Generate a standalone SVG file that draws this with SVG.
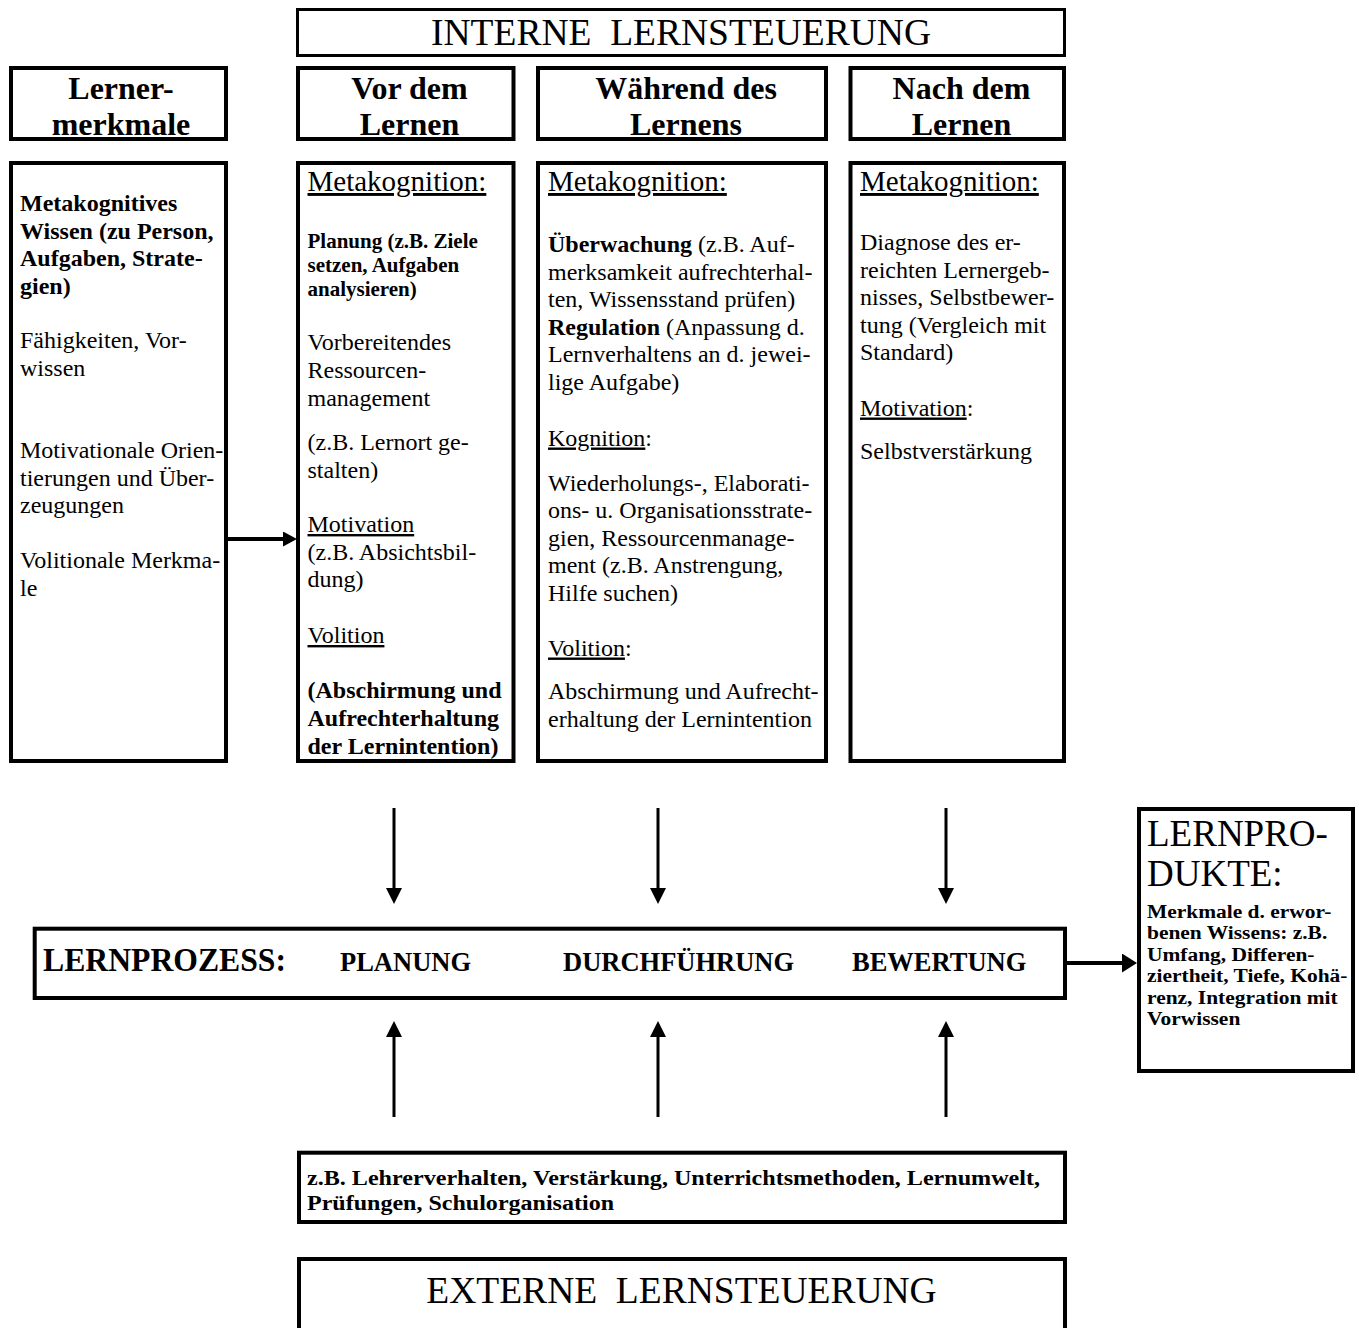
<svg xmlns="http://www.w3.org/2000/svg" width="1359" height="1328" viewBox="0 0 1359 1328">
<style>
text{font-family:"Liberation Serif","Times New Roman",serif;fill:#000}
.bx{fill:#fff;stroke:#000;stroke-width:4}
.bx3{fill:#fff;stroke:#000;stroke-width:3}
.hd{font-size:32px;font-weight:bold;text-anchor:middle}
.big{font-size:37.5px;text-anchor:middle;white-space:pre}
.mk{font-size:29px}
.bd{font-size:24px}
.b{font-weight:bold}
.u{text-decoration:underline}
.sm{font-size:21px;font-weight:bold}
.lp{font-size:26.5px;font-weight:bold}
.cn{stroke:#000;stroke-width:3;fill:none}
.cn4{stroke:#000;stroke-width:4;fill:none}
</style>
<defs>
<marker id="ah" markerUnits="userSpaceOnUse" markerWidth="16" markerHeight="16" refX="0" refY="8" orient="auto" viewBox="0 0 16 16"><path d="M0,0L16,8L0,16z" fill="#000"/></marker>
<marker id="ah2" markerUnits="userSpaceOnUse" markerWidth="15" markerHeight="19" refX="0" refY="9.5" orient="auto" viewBox="0 0 15 19"><path d="M0,0L15,9.5L0,19z" fill="#000"/></marker>
<marker id="ah3" markerUnits="userSpaceOnUse" markerWidth="14" markerHeight="15" refX="0" refY="7.5" orient="auto" viewBox="0 0 14 15"><path d="M0,0L14,7.5L0,15z" fill="#000"/></marker>
</defs>
<rect width="1359" height="1328" fill="#fff"/>

<g id="connectors">
<line class="cn4" x1="228" y1="539" x2="283" y2="539" marker-end="url(#ah3)"/>
<line class="cn" x1="394" y1="808" x2="394" y2="888" marker-end="url(#ah)"/>
<line class="cn" x1="658" y1="808" x2="658" y2="888" marker-end="url(#ah)"/>
<line class="cn" x1="946" y1="808" x2="946" y2="888" marker-end="url(#ah)"/>
<line class="cn" x1="394" y1="1117" x2="394" y2="1037" marker-end="url(#ah)"/>
<line class="cn" x1="658" y1="1117" x2="658" y2="1037" marker-end="url(#ah)"/>
<line class="cn" x1="946" y1="1117" x2="946" y2="1037" marker-end="url(#ah)"/>
<line class="cn4" x1="1067" y1="963" x2="1122" y2="963" marker-end="url(#ah2)"/>
</g>

<g id="interne">
<rect class="bx3" x="297.5" y="9.5" width="767" height="46"/>
<text class="big" x="681" y="45" xml:space="preserve">INTERNE  LERNSTEUERUNG</text>
</g>

<g id="h-lernermerkmale">
<rect class="bx" x="11" y="68" width="215" height="71"/>
<text class="hd" x="121" y="99">Lerner-</text>
<text class="hd u" x="121" y="135">merkmale</text>
</g>
<g id="h-vor">
<rect class="bx" x="298" y="68" width="215.5" height="71"/>
<text class="hd" x="409.5" y="99">Vor dem</text>
<text class="hd u" x="409.5" y="135">Lernen</text>
</g>
<g id="h-waehrend">
<rect class="bx" x="538" y="68" width="288" height="71"/>
<text class="hd" x="686" y="99">Während des</text>
<text class="hd u" x="686" y="135">Lernens</text>
</g>
<g id="h-nach">
<rect class="bx" x="850.5" y="68" width="213.5" height="71"/>
<text class="hd" x="961.5" y="99">Nach dem</text>
<text class="hd u" x="961.5" y="135">Lernen</text>
</g>

<g id="c-lernermerkmale">
<rect class="bx" x="11" y="163" width="215" height="598"/>
<text class="bd b" x="20" y="211">Metakognitives</text>
<text class="bd b" x="20" y="238.6">Wissen (zu Person,</text>
<text class="bd b" x="20" y="266.2">Aufgaben, Strate-</text>
<text class="bd b" x="20" y="293.8">gien)</text>
<text class="bd" x="20" y="348">Fähigkeiten, Vor-</text>
<text class="bd" x="20" y="375.6">wissen</text>
<text class="bd" x="20" y="458">Motivationale Orien-</text>
<text class="bd" x="20" y="485.6">tierungen und Über-</text>
<text class="bd" x="20" y="513.2">zeugungen</text>
<text class="bd" x="20" y="568">Volitionale Merkma-</text>
<text class="bd" x="20" y="595.6">le</text>
</g>

<g id="c-vor">
<rect class="bx" x="298" y="163" width="215.5" height="598"/>
<text class="mk u" x="307.5" y="191">Metakognition:</text>
<text class="sm" x="307.5" y="248">Planung (z.B. Ziele</text>
<text class="sm" x="307.5" y="272">setzen, Aufgaben</text>
<text class="sm" x="307.5" y="296">analysieren)</text>
<text class="bd" x="307.5" y="350">Vorbereitendes</text>
<text class="bd" x="307.5" y="378">Ressourcen-</text>
<text class="bd" x="307.5" y="406">management</text>
<text class="bd" x="307.5" y="450">(z.B. Lernort ge-</text>
<text class="bd" x="307.5" y="477.5">stalten)</text>
<text class="bd u" x="307.5" y="532">Motivation</text>
<text class="bd" x="307.5" y="560">(z.B. Absichtsbil-</text>
<text class="bd" x="307.5" y="587">dung)</text>
<text class="bd u" x="307.5" y="643">Volition</text>
<text class="bd b" x="307.5" y="698">(Abschirmung und</text>
<text class="bd b" x="307.5" y="726">Aufrechterhaltung</text>
<text class="bd b" x="307.5" y="754">der Lernintention)</text>
</g>

<g id="c-waehrend">
<rect class="bx" x="538" y="163" width="288" height="598"/>
<text class="mk u" x="548" y="191">Metakognition:</text>
<text class="bd" x="548" y="252"><tspan class="b">Überwachung</tspan> (z.B. Auf-</text>
<text class="bd" x="548" y="279.6">merksamkeit aufrechterhal-</text>
<text class="bd" x="548" y="307.2">ten, Wissensstand prüfen)</text>
<text class="bd" x="548" y="334.8"><tspan class="b">Regulation</tspan> (Anpassung d.</text>
<text class="bd" x="548" y="362.4">Lernverhaltens an d. jewei-</text>
<text class="bd" x="548" y="390">lige Aufgabe)</text>
<text class="bd" x="548" y="445.5"><tspan class="u">Kognition</tspan>:</text>
<text class="bd" x="548" y="490.5">Wiederholungs-, Elaborati-</text>
<text class="bd" x="548" y="518">ons- u. Organisationsstrate-</text>
<text class="bd" x="548" y="545.6">gien, Ressourcenmanage-</text>
<text class="bd" x="548" y="573.2">ment (z.B. Anstrengung,</text>
<text class="bd" x="548" y="600.8">Hilfe suchen)</text>
<text class="bd" x="548" y="655.5"><tspan class="u">Volition</tspan>:</text>
<text class="bd" x="548" y="699">Abschirmung und Aufrecht-</text>
<text class="bd" x="548" y="726.6">erhaltung der Lernintention</text>
</g>

<g id="c-nach">
<rect class="bx" x="850.5" y="163" width="213.5" height="598"/>
<text class="mk u" x="860" y="191">Metakognition:</text>
<text class="bd" x="860" y="250">Diagnose des er-</text>
<text class="bd" x="860" y="277.6">reichten Lernergeb-</text>
<text class="bd" x="860" y="305.2">nisses, Selbstbewer-</text>
<text class="bd" x="860" y="332.8">tung (Vergleich mit</text>
<text class="bd" x="860" y="360.4">Standard)</text>
<text class="bd" x="860" y="415.5"><tspan class="u">Motivation</tspan>:</text>
<text class="bd" x="860" y="458.5">Selbstverstärkung</text>
</g>

<g id="lernprozess">
<rect class="bx" x="34.7" y="928.7" width="1030.3" height="69.3"/>
<text x="43" y="971" font-size="33" font-weight="bold" textLength="243" lengthAdjust="spacingAndGlyphs">LERNPROZESS:</text>
<text class="lp" x="340" y="971">PLANUNG</text>
<text class="lp" x="563" y="971">DURCHFÜHRUNG</text>
<text class="lp" x="852" y="971">BEWERTUNG</text>
</g>

<g id="lernprodukte">
<rect class="bx" x="1139" y="809" width="214" height="262"/>
<text x="1147" y="846" font-size="37">LERNPRO-</text>
<text x="1147" y="886" font-size="37">DUKTE:</text>
<g transform="translate(1147,0) scale(1.1,1)" font-size="19.5" font-weight="bold">
<text x="0" y="918">Merkmale d. erwor-</text>
<text x="0" y="939.5">benen Wissens: z.B.</text>
<text x="0" y="961">Umfang, Differen-</text>
<text x="0" y="982.5">ziertheit, Tiefe, Kohä-</text>
<text x="0" y="1004">renz, Integration mit</text>
<text x="0" y="1025.5">Vorwissen</text>
</g>
</g>

<g id="beispiele">
<rect class="bx" x="299" y="1152.7" width="766" height="69.3"/>
<text x="307" y="1185" font-size="20.5" font-weight="bold" textLength="733" lengthAdjust="spacingAndGlyphs">z.B. Lehrerverhalten, Verstärkung, Unterrichtsmethoden, Lernumwelt,</text>
<text x="307" y="1210" font-size="20.5" font-weight="bold" textLength="307" lengthAdjust="spacingAndGlyphs">Prüfungen, Schulorganisation</text>
</g>

<g id="externe">
<rect class="bx" x="299" y="1259" width="766" height="100"/>
<text class="big" x="681.5" y="1303" xml:space="preserve">EXTERNE  LERNSTEUERUNG</text>
</g>
</svg>
